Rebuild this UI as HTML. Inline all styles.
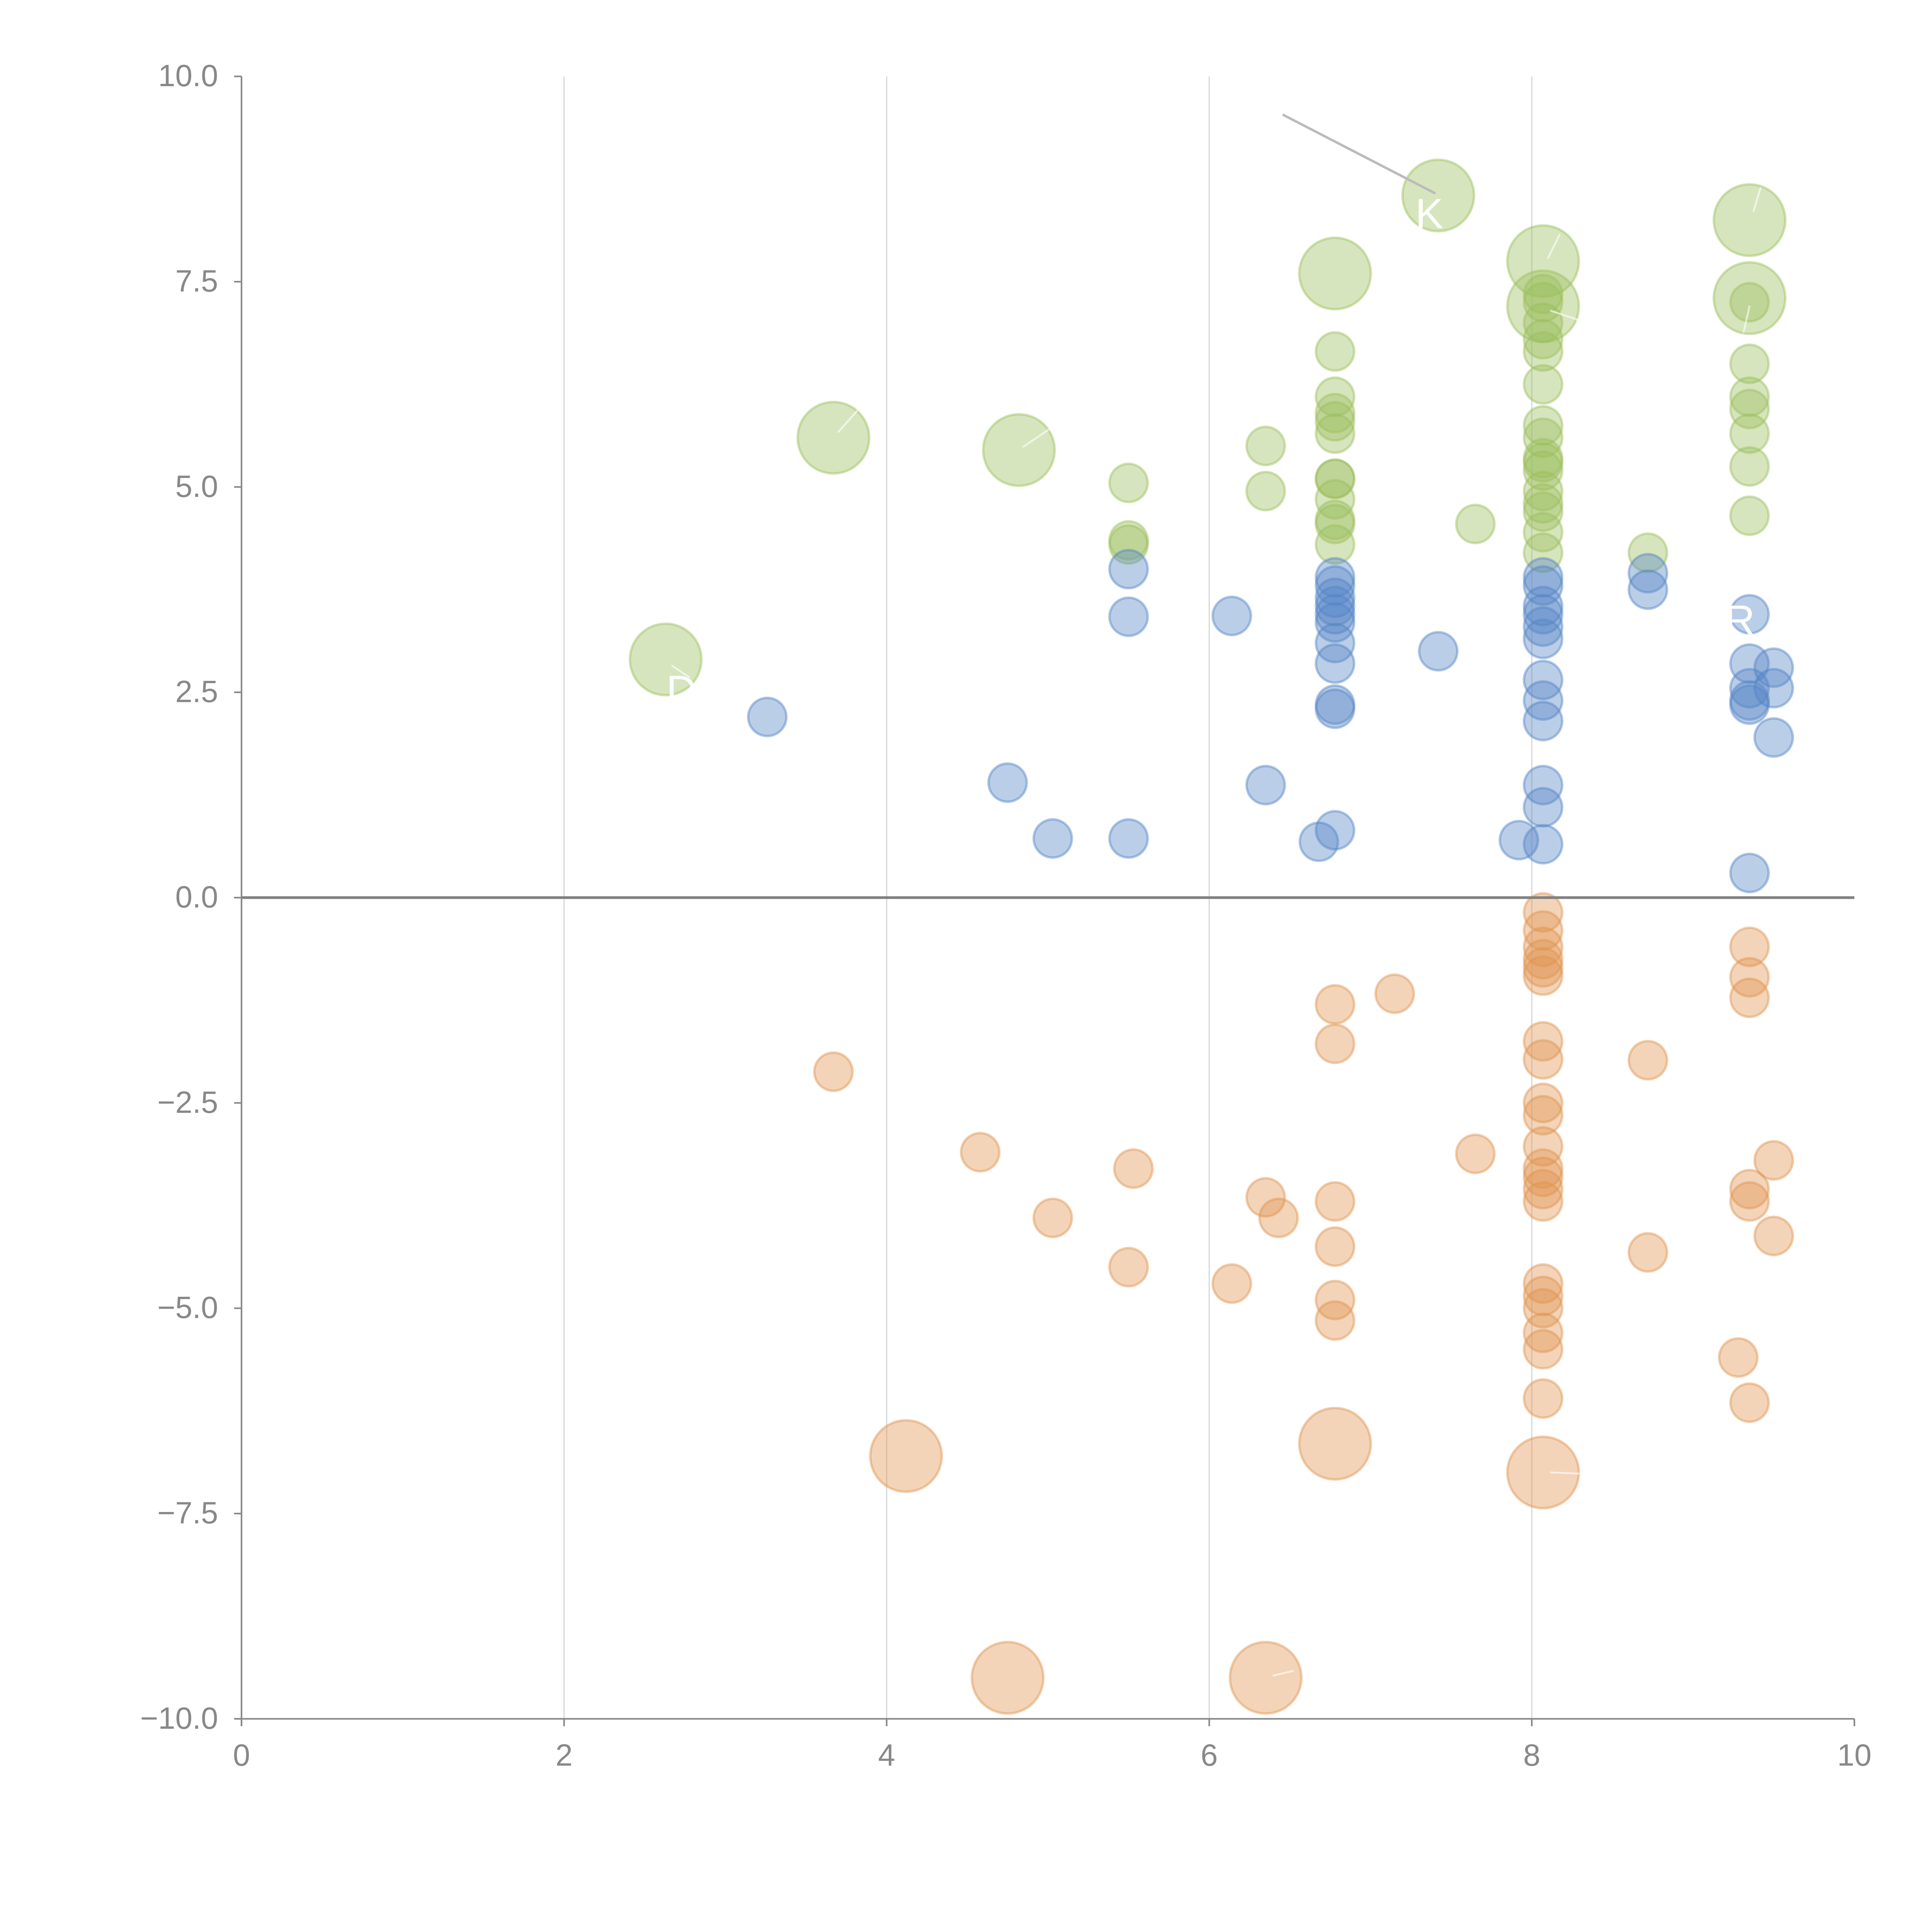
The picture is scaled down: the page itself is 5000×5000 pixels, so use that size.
<!DOCTYPE html>
<html><head><meta charset="utf-8"><style>
html,body{margin:0;padding:0;background:#fff;}
svg{display:block;}
text{font-family:"Liberation Sans",sans-serif;}
</style></head><body>
<svg id="chart" width="5000" height="5000" viewBox="0 0 1568 1568" xmlns="http://www.w3.org/2000/svg">
<g id="grid"></g>
<g id="marks"></g>
<g id="axes"></g>
<g id="ann"></g>
</svg>
<script>
const xTicks = [0, 2, 4, 6, 8, 10];
const yTicks = [-10, -7.5, -5, -2.5, 0, 2.5, 5, 7.5, 10];
const yTickLabels = ["\u221210.0", "\u22127.5", "\u22125.0", "\u22122.5", "0.0", "2.5", "5.0", "7.5", "10.0"];
const greenX = [2.63,3.67,4.82,5.5,5.5,5.5,6.35,6.35,6.78,6.78,6.78,6.78,6.78,6.78,6.78,6.78,6.78,6.78,6.78,6.78,7.42,7.65,8.07,8.07,8.07,8.07,8.07,8.07,8.07,8.07,8.07,8.07,8.07,8.07,8.07,8.07,8.07,8.07,8.07,8.07,8.72,9.35,9.35,9.35,9.35,9.35,9.35,9.35,9.35,9.35];
const greenY = [2.9,5.6,5.45,5.05,4.35,4.3,5.5,4.95,7.6,6.65,6.1,5.9,5.8,5.65,5.1,5.1,4.85,4.6,4.55,4.3,8.55,4.55,7.75,7.2,7.35,7.25,7.0,6.8,6.65,6.25,5.75,5.6,5.35,5.3,5.2,4.95,4.8,4.7,4.45,4.2,4.2,8.25,7.3,7.25,6.5,6.1,5.95,5.65,5.25,4.65];
const greenS = [2,2,2,1,1,1,1,1,2,1,1,1,1,1,1,1,1,1,1,1,2,1,2,2,1,1,1,1,1,1,1,1,1,1,1,1,1,1,1,1,1,2,2,1,1,1,1,1,1,1];
const blueX = [3.26,4.75,5.03,5.5,5.5,5.5,6.14,6.35,6.68,6.78,6.78,6.78,6.78,6.78,6.78,6.78,6.78,6.78,6.78,6.78,7.42,7.92,8.07,8.07,8.07,8.07,8.07,8.07,8.07,8.07,8.07,8.07,8.07,8.07,8.72,8.72,9.35,9.35,9.35,9.35,9.35,9.35,9.5,9.5,9.5];
const blueY = [2.2,1.4,0.72,4.0,3.42,0.72,3.43,1.37,0.68,3.9,3.8,3.65,3.55,3.45,3.35,3.1,2.85,2.35,2.3,0.82,3.0,0.7,3.9,3.8,3.55,3.45,3.3,3.15,2.65,2.4,2.15,1.37,1.1,0.65,3.95,3.75,3.45,2.85,2.55,2.4,2.35,0.3,2.8,2.55,1.95];
const orangeX = [3.67,4.12,4.58,4.75,5.03,5.5,5.53,6.14,6.35,6.35,6.43,6.78,6.78,6.78,6.78,6.78,6.78,6.78,7.15,7.65,8.07,8.07,8.07,8.07,8.07,8.07,8.07,8.07,8.07,8.07,8.07,8.07,8.07,8.07,8.07,8.07,8.07,8.07,8.07,8.07,8.07,8.07,8.72,8.72,9.28,9.35,9.35,9.35,9.35,9.35,9.35,9.5,9.5];
const orangeY = [-2.12,-6.8,-3.1,-9.5,-3.9,-4.5,-3.3,-4.7,-3.65,-9.5,-3.9,-6.65,-1.3,-1.78,-3.7,-4.25,-4.9,-5.15,-1.17,-3.12,-7.0,-0.18,-0.4,-0.6,-0.75,-0.85,-0.95,-1.75,-1.97,-2.5,-2.65,-3.03,-3.3,-3.4,-3.55,-3.7,-4.7,-4.85,-5.0,-5.3,-5.5,-6.1,-1.98,-4.32,-5.6,-0.6,-0.97,-1.22,-3.55,-3.7,-6.15,-3.2,-4.12];
const orangeS = [1,2,1,2,1,1,1,1,1,2,1,2,1,1,1,1,1,1,1,1,2,1,1,1,1,1,1,1,1,1,1,1,1,1,1,1,1,1,1,1,1,1,1,1,1,1,1,1,1,1,1,1,1];

const NS = "http://www.w3.org/2000/svg";
const X0 = 196, X1 = 1505, Y0 = 1395, Y1 = 62;
function sx(v){ return X0 + (v - 0) / 10 * (X1 - X0); }
function sy(v){ return Y0 - (v + 10) / 20 * (Y0 - Y1); }
function mk(tag, attrs, parent){ const e = document.createElementNS(NS, tag); for (const k in attrs) e.setAttribute(k, attrs[k]); parent.appendChild(e); return e; }

const grid = document.getElementById('grid');
const marks = document.getElementById('marks');
const axes = document.getElementById('axes');
const ann = document.getElementById('ann');

xTicks.forEach(t => {
  if (t > 0 && t < 10) {
    const l = mk('line', {x1: sx(t), x2: sx(t), y1: Y1, y2: Y0, stroke: '#d8d8d8', 'stroke-width': 1}, grid);
    
    
  }
});

function drawSeries(xs, ys, ss, color, name){
  xs.forEach((x, i) => {
    const r = (ss && ss[i] === 2) ? 29 : 15.5;
    const c = mk('circle', {cx: sx(x), cy: sy(ys[i]), r: r, fill: color, 'fill-opacity': 0.4, stroke: color, 'stroke-opacity': 0.45, 'stroke-width': 2}, marks);
    
    
  });
}
drawSeries(greenX, greenY, greenS, '#9bbf5c', 'green');
drawSeries(blueX, blueY, null, '#5584c6', 'blue');
drawSeries(orangeX, orangeY, orangeS, '#e0944f', 'orange');

const z = mk('line', {x1: X0, x2: X1, y1: sy(0), y2: sy(0), stroke: '#808080', 'stroke-width': 2.2}, axes);


const ya = mk('line', {x1: X0, x2: X0, y1: Y1, y2: Y0 + 5, stroke: '#888', 'stroke-width': 1.3}, axes);


const xa = mk('line', {x1: X0 - 5, x2: X1, y1: Y0, y2: Y0, stroke: '#888', 'stroke-width': 1.3}, axes);



xTicks.forEach(t => {
  mk('line', {x1: sx(t), x2: sx(t), y1: Y0, y2: Y0 + 6, stroke: '#888', 'stroke-width': 1.3}, axes);
  const tx = mk('text', {x: sx(t), y: Y0 + 38, 'text-anchor': 'middle', 'font-size': 25, fill: '#888'}, axes);
  tx.textContent = String(t);
  
  
});
yTicks.forEach((t, i) => {
  mk('line', {x1: X0 - 6, x2: X0, y1: sy(t), y2: sy(t), stroke: '#888', 'stroke-width': 1.3}, axes);
  const tx = mk('text', {x: X0 - 19, y: sy(t) + 8, 'text-anchor': 'end', 'font-size': 25, fill: '#888'}, axes);
  tx.textContent = yTickLabels[i];
  
  
});

const lead = mk('line', {x1: 1041, y1: 93, x2: 1165, y2: 157, stroke: '#bbb', 'stroke-width': 2}, ann);


[[680,351,696,333],[830,363,852,348],[545,540,560,550],[1256,210,1266,190],[1258,252,1282,260],[1423,172,1429,152],[1415,270,1420,248],[1258,1195,1282,1196],[1033,1360,1050,1356]].forEach(s => {
  const l = mk('line', {x1: s[0], y1: s[1], x2: s[2], y2: s[3], stroke: '#fff', 'stroke-opacity': 0.6, 'stroke-width': 1.5}, ann);
  
  
});
[[1160, 185, 'K'], [1412, 515, 'R'], [553, 572, 'D']].forEach(a => {
  const t = mk('text', {x: a[0], y: a[1], 'text-anchor': 'middle', 'font-size': 34, fill: '#fff'}, ann);
  t.textContent = a[2];
  
  
});
</script>
</body></html>
